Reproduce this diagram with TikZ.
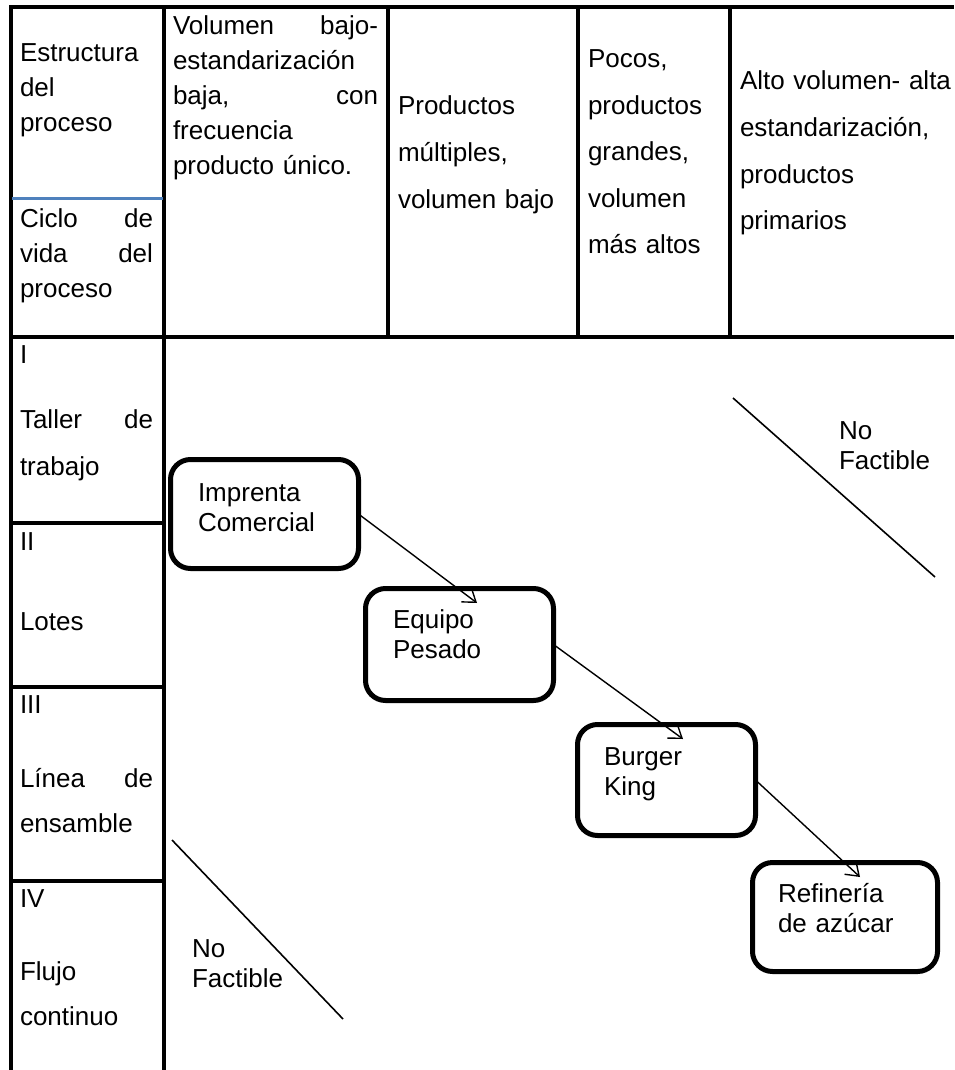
\documentclass[tikz,border=0pt]{standalone}
\usepackage{fontspec}
\setmainfont{Liberation Sans}
\usetikzlibrary{arrows.meta,calc}
\definecolor{rowblue}{RGB}{79,129,189}
\tikzset{
  grid/.style={line width=3.5pt},
  txt/.style={anchor=base west, inner sep=0pt, outer sep=0pt, align=left},
  tight/.style={txt, font=\fontsize{26}{35}\selectfont},
  loose/.style={txt, font=\fontsize{26}{46.5}\selectfont},
  boxlbl/.style={txt, text width=150pt, font=\fontsize{26}{30}\selectfont},
  stage/.style={draw, line width=5pt, rounded corners=20pt, inner sep=0pt, outer sep=0pt},
  flow/.style={line width=1.4pt, -{Straight Barb[length=12pt,width=17pt,line width=1.4pt]}},
  limit/.style={line width=1.6pt}
}
\begin{document}
\begin{tikzpicture}[x=1pt,y=-1pt]
\useasboundingbox (0,0) rectangle (954,1070);

% table grid
\draw[grid] (9,7) -- (954,7);
\draw[grid] (11,7) -- (11,1070);
\draw[grid] (164,7) -- (164,1070);
\draw[grid] (388,7) -- (388,337);
\draw[grid] (578,7) -- (578,337);
\draw[grid] (730,7) -- (730,337);
\draw[grid] (11,337) -- (954,337);
\draw[grid] (11,523) -- (164,523);
\draw[grid] (11,687) -- (164,687);
\draw[grid] (11,881) -- (164,881);
\draw[line width=3pt, rowblue] (12,198) -- (163,198);

% header cells
\node[tight, text width=133pt] (hest) at (20,62) {Estructura\\del\\proceso};
\node[tight, text width=133pt] (hciclo) at (20,227) {Ciclo\hfill de\\vida\hfill del\\proceso};
\node[tight, text width=205pt] (hvol) at (173,35)
  {Volumen\hfill bajo-\\estandarización\\baja,\hfill con\\frecuencia\\producto único.};
\node[loose, text width=170pt] (hprod) at (398,115) {Productos\\múltiples,\\volumen bajo};
\node[loose, text width=135pt] (hpocos) at (588,68) {Pocos,\\productos\\grandes,\\volumen\\más altos};
\node[loose, text width=214pt] (halto) at (740,90) {Alto volumen- alta\\estandarización,\\productos\\primarios};

% process life-cycle stages
\node[tight, text width=133pt] (r1) at (20,363) {I\\[30pt]Taller\hfill de\\[12pt]trabajo};
\node[tight, text width=133pt] (r2) at (20,550) {II\\[45pt]Lotes};
\node[tight, text width=133pt] (r3) at (20,713) {III\\[39pt]Línea\hfill de\\[10pt]ensamble};
\node[tight, text width=133pt] (r4) at (20,907) {IV\\[38pt]Flujo\\[10pt]continuo};

% example processes
\node[stage, minimum width=188pt, minimum height=109pt] (b1) at (264.5,514) {};
\node[stage, minimum width=188pt, minimum height=112pt] (b2) at (459.5,644.5) {};
\node[stage, minimum width=178pt, minimum height=111pt] (b3) at (666.5,780) {};
\node[stage, minimum width=185pt, minimum height=109pt] (b4) at (845,917) {};
\node[boxlbl] (l1) at (198,501) {Imprenta\\Comercial};
\node[boxlbl] (l2) at (393,628) {Equipo\\Pesado};
\node[boxlbl] (l3) at (604,765) {Burger\\King};
\node[boxlbl] (l4) at (778,902) {Refinería\\de azúcar};

% arrow tips reach just inside the next box
\coordinate (t1) at ($(b2.north)+(17.5,14.5)$);
\coordinate (t2) at ($(b3.north)+(16.5,14.5)$);
\coordinate (t3) at ($(b4.north)+(15,14.5)$);
\draw[flow] (b1.east) -- (t1);
\draw[flow] (b2.east) -- (t2);
\draw[flow] (b3.east) -- (t3);

% infeasible corners
\coordinate (nfa) at (733,398);
\coordinate (nfb) at (935,577);
\draw[limit] (nfa) -- (nfb);
\node[boxlbl, text width=110pt] (nf1) at (839,439) {No\\Factible};
\coordinate (nfc) at (172,840);
\coordinate (nfd) at (343,1019);
\draw[limit] (nfc) -- (nfd);
\node[boxlbl, text width=110pt] (nf2) at (192,957) {No\\Factible};
\end{tikzpicture}
\end{document}
